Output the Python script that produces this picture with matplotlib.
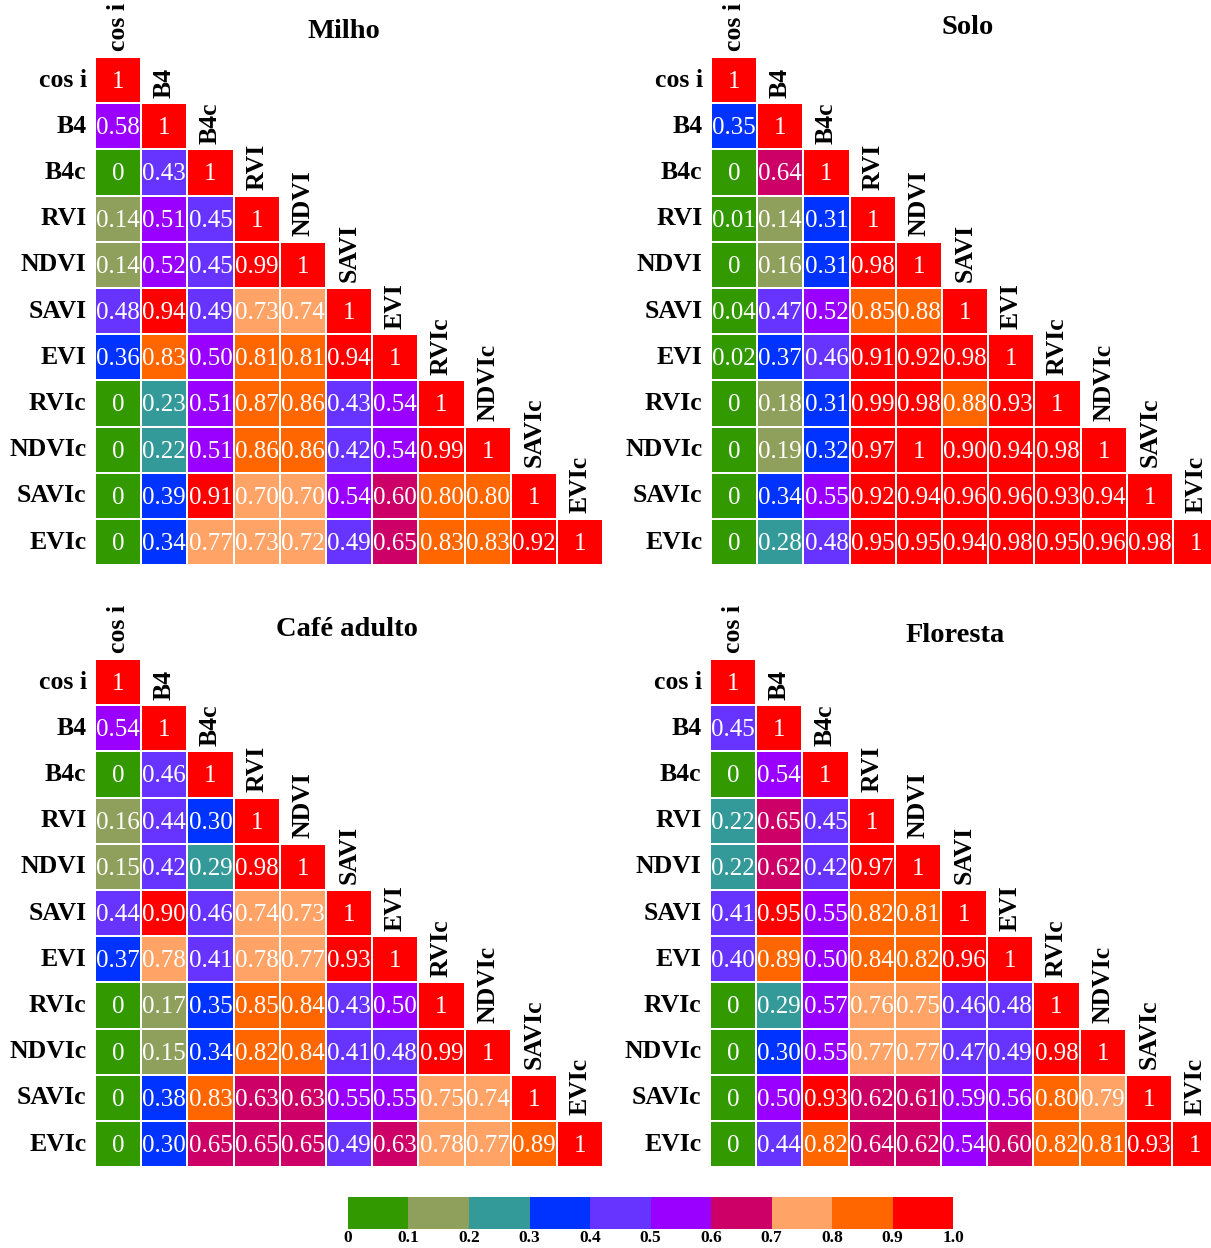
import numpy as np
import matplotlib
matplotlib.use('Agg')
import matplotlib.pyplot as plt
from matplotlib.colors import ListedColormap, BoundaryNorm
from matplotlib.cm import ScalarMappable

plt.rcParams['font.family'] = ['Liberation Serif', 'DejaVu Serif']

labels = ['cos i', 'B4', 'B4c', 'RVI', 'NDVI', 'SAVI', 'EVI', 'RVIc', 'NDVIc', 'SAVIc', 'EVIc']

# lower triangle of each correlation matrix, row by row (diagonal included)
milho = [
    [1],
    [0.58, 1],
    [0, 0.43, 1],
    [0.14, 0.51, 0.45, 1],
    [0.14, 0.52, 0.45, 0.99, 1],
    [0.48, 0.94, 0.49, 0.73, 0.74, 1],
    [0.36, 0.83, 0.50, 0.81, 0.81, 0.94, 1],
    [0, 0.23, 0.51, 0.87, 0.86, 0.43, 0.54, 1],
    [0, 0.22, 0.51, 0.86, 0.86, 0.42, 0.54, 0.99, 1],
    [0, 0.39, 0.91, 0.70, 0.70, 0.54, 0.60, 0.80, 0.80, 1],
    [0, 0.34, 0.77, 0.73, 0.72, 0.49, 0.65, 0.83, 0.83, 0.92, 1],
]
solo = [
    [1],
    [0.35, 1],
    [0, 0.64, 1],
    [0.01, 0.14, 0.31, 1],
    [0, 0.16, 0.31, 0.98, 1],
    [0.04, 0.47, 0.52, 0.85, 0.88, 1],
    [0.02, 0.37, 0.46, 0.91, 0.92, 0.98, 1],
    [0, 0.18, 0.31, 0.99, 0.98, 0.88, 0.93, 1],
    [0, 0.19, 0.32, 0.97, 1, 0.90, 0.94, 0.98, 1],
    [0, 0.34, 0.55, 0.92, 0.94, 0.96, 0.96, 0.93, 0.94, 1],
    [0, 0.28, 0.48, 0.95, 0.95, 0.94, 0.98, 0.95, 0.96, 0.98, 1],
]
cafe = [
    [1],
    [0.54, 1],
    [0, 0.46, 1],
    [0.16, 0.44, 0.30, 1],
    [0.15, 0.42, 0.29, 0.98, 1],
    [0.44, 0.90, 0.46, 0.74, 0.73, 1],
    [0.37, 0.78, 0.41, 0.78, 0.77, 0.93, 1],
    [0, 0.17, 0.35, 0.85, 0.84, 0.43, 0.50, 1],
    [0, 0.15, 0.34, 0.82, 0.84, 0.41, 0.48, 0.99, 1],
    [0, 0.38, 0.83, 0.63, 0.63, 0.55, 0.55, 0.75, 0.74, 1],
    [0, 0.30, 0.65, 0.65, 0.65, 0.49, 0.63, 0.78, 0.77, 0.89, 1],
]
floresta = [
    [1],
    [0.45, 1],
    [0, 0.54, 1],
    [0.22, 0.65, 0.45, 1],
    [0.22, 0.62, 0.42, 0.97, 1],
    [0.41, 0.95, 0.55, 0.82, 0.81, 1],
    [0.40, 0.89, 0.50, 0.84, 0.82, 0.96, 1],
    [0, 0.29, 0.57, 0.76, 0.75, 0.46, 0.48, 1],
    [0, 0.30, 0.55, 0.77, 0.77, 0.47, 0.49, 0.98, 1],
    [0, 0.50, 0.93, 0.62, 0.61, 0.59, 0.56, 0.80, 0.79, 1],
    [0, 0.44, 0.82, 0.64, 0.62, 0.54, 0.60, 0.82, 0.81, 0.93, 1],
]

bounds = [0, 0.1, 0.2, 0.3, 0.4, 0.5, 0.6, 0.7, 0.8, 0.9, 1.0]
bound_labels = ['0', '0.1', '0.2', '0.3', '0.4', '0.5', '0.6', '0.7', '0.8', '0.9', '1.0']
colors = ['#339900', '#8f9f5c', '#339999', '#0033ff', '#6633ff',
          '#9900ff', '#cc0066', '#ffa366', '#ff6600', '#ff0000']

cmap = ListedColormap(colors)
cmap.set_over('#ff0000')
norm = BoundaryNorm(bounds, cmap.N)

W, H = 1211, 1248
fig = plt.figure(figsize=(W / 100, H / 100), dpi=100)

# panel: data, title, (left px, top px), title position px
panels = [
    (milho, 'Milho', (95, 57), (344, 31)),
    (solo, 'Solo', (711, 57), (968, 28)),
    (cafe, 'Café adulto', (95, 659), (347, 630)),
    (floresta, 'Floresta', (710, 659), (955, 635)),
]

cell = 46.2
n = len(labels)
for rows, title, (lx, ty), (tx, tty) in panels:
    mat = np.full((n, n), np.nan)
    for i, r in enumerate(rows):
        mat[i, :len(r)] = r
    ax = fig.add_axes([lx / W, 1 - (ty + cell * n) / H, cell * n / W, cell * n / H])
    ax.pcolormesh(np.ma.masked_invalid(mat), cmap=cmap, norm=norm,
                  edgecolors='white', linewidth=1.2)
    ax.set_xlim(0, n)
    ax.set_ylim(n, 0)
    ax.axis('off')
    for i, r in enumerate(rows):
        for j, v in enumerate(r):
            s = '%d' % v if v in (0, 1) else '%.2f' % v
            ax.text(j + 0.5, i + 0.54, s, color='white', fontsize=18,
                    ha='center', va='center')
    for k, lab in enumerate(labels):
        ax.text(-0.18, k + 0.5, lab, fontsize=18.5, fontweight='bold',
                ha='right', va='center')
        ax.text(k + 0.5, k - 0.12, lab, fontsize=18.5, fontweight='bold',
                rotation=90, ha='center', va='bottom')
    fig.text(tx / W, 1 - tty / H, title, fontsize=20.5, fontweight='bold',
             ha='center', va='center')

# colour bar
cax = fig.add_axes([348 / W, 1 - 1229 / H, 605 / W, 32 / H])
cb = fig.colorbar(ScalarMappable(norm=norm, cmap=cmap), cax=cax,
                  orientation='horizontal', ticks=bounds, spacing='uniform')
cb.outline.set_visible(False)
cb.ax.set_xticklabels(bound_labels)
cb.ax.tick_params(length=0, pad=0.5, labelsize=12.5)
for t in cb.ax.get_xticklabels():
    t.set_fontweight('bold')

fig.savefig('out.png', dpi=100)
